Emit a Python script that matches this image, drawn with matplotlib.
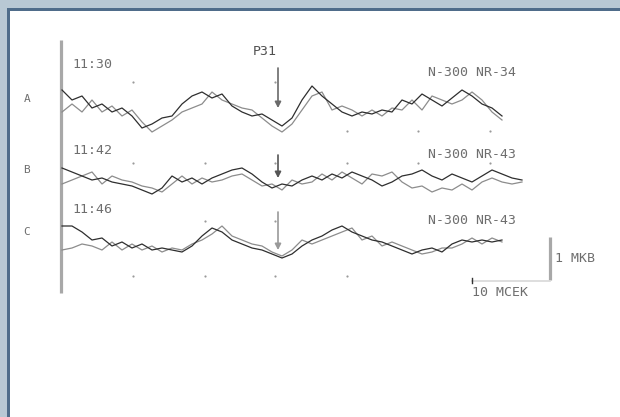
# -*- coding: utf-8 -*-
import numpy as np
import matplotlib
matplotlib.use("Agg")
import matplotlib.pyplot as plt
from matplotlib.patches import Rectangle

# averaged responses, uV, one sample every 1.25 ms
trace_a1 = [0.35, 0.10, 0.20, -0.10, 0.00, -0.20, -0.10, -0.30, -0.60, -0.50,
            -0.35, -0.30, 0.00, 0.20, 0.30, 0.15, 0.25, -0.05, -0.20, -0.30,
            -0.25, -0.40, -0.55, -0.35, 0.10, 0.45, 0.20, 0.00, -0.20, -0.30,
            -0.20, -0.25, -0.15, -0.20, 0.10, 0.00, 0.25, 0.10, -0.05, 0.15,
            0.35, 0.20, 0.00, -0.10, -0.30]
trace_a2 = [-0.20, 0.00, -0.20, 0.10, -0.20, -0.05, -0.30, -0.15, -0.45, -0.70,
            -0.55, -0.40, -0.20, -0.10, 0.00, 0.30, 0.10, 0.00, -0.10, -0.15,
            -0.35, -0.55, -0.70, -0.50, -0.15, 0.20, 0.30, -0.15, -0.05, -0.15,
            -0.30, -0.15, -0.30, -0.10, -0.15, 0.10, -0.15, 0.20, 0.10, 0.00,
            0.10, 0.30, 0.10, -0.20, -0.40]
trace_b1 = [0.30, 0.20, 0.10, 0.00, 0.05, -0.05, -0.10, -0.15, -0.25, -0.35,
            -0.20, 0.10, -0.05, 0.05, -0.10, 0.05, 0.15, 0.25, 0.30, 0.15,
            -0.05, -0.20, -0.10, -0.15, 0.00, 0.10, 0.00, 0.15, 0.05, 0.20,
            0.10, 0.00, -0.15, -0.05, 0.10, 0.15, 0.25, 0.10, 0.00, 0.15,
            0.05, -0.05, 0.10, 0.25, 0.15, 0.05, 0.00]
trace_b2 = [-0.10, 0.00, 0.10, 0.20, -0.10, 0.10, 0.00, -0.05, -0.15, -0.20,
            -0.30, -0.10, 0.10, -0.10, 0.05, -0.05, 0.00, 0.10, 0.15, 0.00,
            -0.15, -0.10, -0.25, 0.00, -0.10, -0.05, 0.15, 0.00, 0.20, 0.05,
            -0.10, 0.15, 0.10, 0.20, -0.05, -0.20, -0.15, -0.30, -0.20, -0.25,
            -0.10, -0.25, -0.05, 0.05, -0.05, -0.10, -0.05]
trace_c1 = [0.40, 0.40, 0.25, 0.05, 0.10, -0.10, 0.00, -0.15, -0.05, -0.20,
            -0.15, -0.20, -0.25, -0.10, 0.15, 0.35, 0.25, 0.05, -0.05, -0.15,
            -0.20, -0.30, -0.40, -0.30, -0.10, 0.05, 0.15, 0.30, 0.40, 0.25,
            0.15, 0.05, 0.00, -0.10, -0.20, -0.30, -0.20, -0.15, -0.25, -0.05,
            0.05, 0.00, 0.05, 0.00, 0.05]
trace_c2 = [-0.20, -0.15, -0.05, -0.10, -0.20, 0.00, -0.20, -0.05, -0.20, -0.10,
            -0.25, -0.15, -0.20, -0.05, 0.05, 0.20, 0.40, 0.15, 0.05, -0.05,
            -0.10, -0.25, -0.35, -0.20, 0.05, -0.05, 0.05, 0.15, 0.25, 0.35,
            0.05, 0.15, -0.10, 0.00, -0.10, -0.20, -0.30, -0.25, -0.15, -0.15,
            -0.05, 0.10, -0.05, 0.10, 0.00]

row_names = ["A", "B", "C"]
row_times = ["11:30", "11:42", "11:46"]
row_counts = ["N-300 NR-34", "N-300 NR-43", "N-300 NR-43"]
peak_name = "P31"
peak_ms = 27.0
marker_ms = [8.9, 17.9, 26.6, 35.6, 44.5, 53.5]
step_ms = 1.25

# layout (pixels on a 620x417 canvas)
X0 = 62
MS_PX = 8.0
UV_PX = 40.0
bases = [104, 180, 242]
FONT = "DejaVu Sans Mono"
TXT = "#6e6e6e"

fig = plt.figure(figsize=(6.2, 4.17), dpi=100)
ax = fig.add_axes([0, 0, 1, 1])
ax.set_xlim(0, 620)
ax.set_ylim(417, 0)
ax.axis("off")

# window frame
ax.add_patch(Rectangle((0, 0), 620, 8, color="#b8c8d4", lw=0))
ax.add_patch(Rectangle((0, 0), 7, 417, color="#b8c8d4", lw=0))
ax.add_patch(Rectangle((7, 8), 613, 3, color="#4f6c8a", lw=0))
ax.add_patch(Rectangle((7, 8), 3, 409, color="#4f6c8a", lw=0))

def tx(t):
    return X0 + np.asarray(t) * MS_PX

# start line
ax.plot([61, 61], [40, 293], color="#a8a8a8", lw=2.3, solid_capstyle="butt")

pairs = [(trace_a1, trace_a2), (trace_b1, trace_b2), (trace_c1, trace_c2)]
for base, (s1, s2) in zip(bases, pairs):
    for s, c in ((s2, "#8c8c8c"), (s1, "#2e2e2e")):
        v = np.asarray(s)
        t = np.arange(len(v)) * step_ms
        ax.plot(tx(t), base - v * UV_PX, color=c, lw=0.9)

# time marks
dots = [([8.9, 26.6], 82), ([35.6, 44.5, 53.5], 131),
        (marker_ms, 163), ([17.9, 26.6], 221), ([8.9, 17.9, 26.6, 35.6], 276)]
for ts, y in dots:
    ax.scatter(tx(ts), [y] * len(ts), s=2.5, color="#9a9a9a", lw=0)

# row labels
for base, name, tm, cnt, ty, cy in zip(bases, row_names, row_times, row_counts,
                                        [64, 150, 209], [72, 154, 220]):
    ax.text(27, base - 5 if name == "A" else base - 10, name, fontsize=8,
            family=FONT, color=TXT, ha="center", va="center")
    ax.text(72, ty, tm, fontsize=9.5, family=FONT, color=TXT, va="center")
    ax.text(428, cy, cnt, fontsize=9.5, family=FONT, color=TXT, va="center")

# peak arrows
ax.text(253, 51, peak_name, fontsize=9.5, family=FONT, color="#505050", va="center")
for (y0, y1), c in (((68, 108), "#6a6a6a"), ((155, 178), "#555555"),
                    ((212, 250), "#9a9a9a")):
    ax.annotate("", xy=(tx(peak_ms), y1), xytext=(tx(peak_ms), y0),
                arrowprops=dict(arrowstyle="-|>,head_length=0.35,head_width=0.18",
                                color=c, lw=1.2, shrinkA=0, shrinkB=0))

# calibration bars
ax.plot([550, 550], [237, 280], color="#a8a8a8", lw=2.3, solid_capstyle="butt")
ax.plot([472, 550], [281, 281], color="#d8d8d8", lw=1.2)
ax.plot([472, 472], [278, 283], color="#333333", lw=1.0)
ax.text(555, 259, "1 МКВ", fontsize=9.5, family=FONT, color=TXT, va="center")
ax.text(472, 293, "10 МСЕК", fontsize=9.5, family=FONT, color=TXT, va="center")

fig.savefig("out.png", dpi=100, facecolor="white")
